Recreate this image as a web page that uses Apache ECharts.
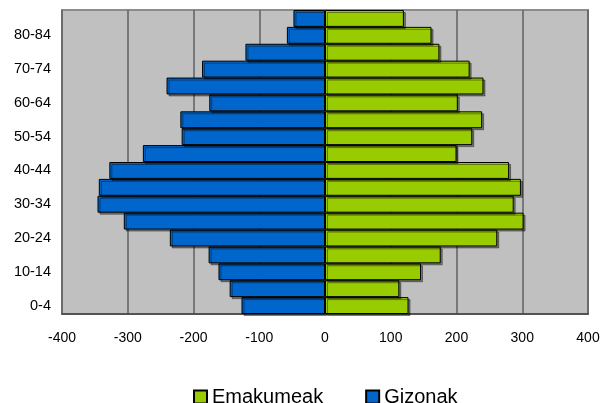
<!DOCTYPE html>
<html>
<head>
<meta charset="utf-8">
<script src="https://cdn.jsdelivr.net/npm/echarts@6/dist/echarts.min.js"></script>
<style>
  html, body { margin: 0; padding: 0; background: #fff; }
  #chart { width: 604px; height: 403px; }
</style>
</head>
<body>
<div id="chart"></div>
<script>
// age groups, bottom to top
var ageGroups = ["0-4", "5-9", "10-14", "15-19", "20-24", "25-29", "30-34", "35-39", "40-44",
  "45-49", "50-54", "55-59", "60-64", "65-69", "70-74", "75-79", "80-84", "85+"];
// men (drawn to the left)
var gizonak = [127, 145, 162, 177, 236, 306, 346, 344, 328, 277, 218, 220, 176, 241, 187, 121, 58, 48];
// women (drawn to the right)
var emakumeak = [127, 113, 146, 176, 262, 302, 287, 298, 280, 200, 224, 239, 202, 241, 220, 174, 162, 120];

var chart = echarts.init(document.getElementById("chart"));

var barStyle = function (color) {
  return {
    color: color,
    borderColor: "#000",
    borderWidth: 1,
    shadowColor: "rgba(0,0,0,0.4)",
    shadowOffsetX: 2,
    shadowOffsetY: 2,
    shadowBlur: 0
  };
};

var option = {
  animation: false,
  textStyle: { fontFamily: "Liberation Sans, Arial, sans-serif" },
  grid: {
    left: 62,
    right: 16,
    top: 10,
    bottom: 89,
    show: true,
    backgroundColor: "#c0c0c0",
    borderColor: "#8c8c8c",
    borderWidth: 2
  },
  legend: {
    data: ["Emakumeak", "Gizonak"],
    top: 382,
    left: 188,
    itemWidth: 13,
    itemHeight: 13,
    itemGap: 42,
    icon: "rect",
    textStyle: { fontSize: 20, color: "#000", fontFamily: "Liberation Sans, Arial, sans-serif" }
  },
  xAxis: {
    type: "value",
    min: -400,
    max: 400,
    interval: 100,
    axisLine: { show: true, onZero: false, lineStyle: { color: "#404040", width: 1.5 } },
    axisTick: { show: false },
    axisLabel: { color: "#000", fontSize: 14, margin: 17 },
    splitLine: { show: true, lineStyle: { color: "#606060", width: 1.5 } }
  },
  yAxis: {
    type: "category",
    data: ageGroups,
    axisLine: { show: false },
    axisTick: { show: false },
    axisLabel: { color: "#000", fontSize: 14.5, margin: 11, interval: 1 },
    splitLine: { show: false }
  },
  series: [
    {
      name: "Gizonak",
      type: "bar",
      stack: "pop",
      barCategoryGap: 0,
      data: gizonak.map(function (v) { return -v; }),
      itemStyle: barStyle("#0066cc")
    },
    {
      name: "Emakumeak",
      type: "bar",
      stack: "pop",
      barCategoryGap: 0,
      data: emakumeak,
      itemStyle: barStyle("#99cc00")
    }
  ]
};

chart.setOption(option);
</script>
</body>
</html>
